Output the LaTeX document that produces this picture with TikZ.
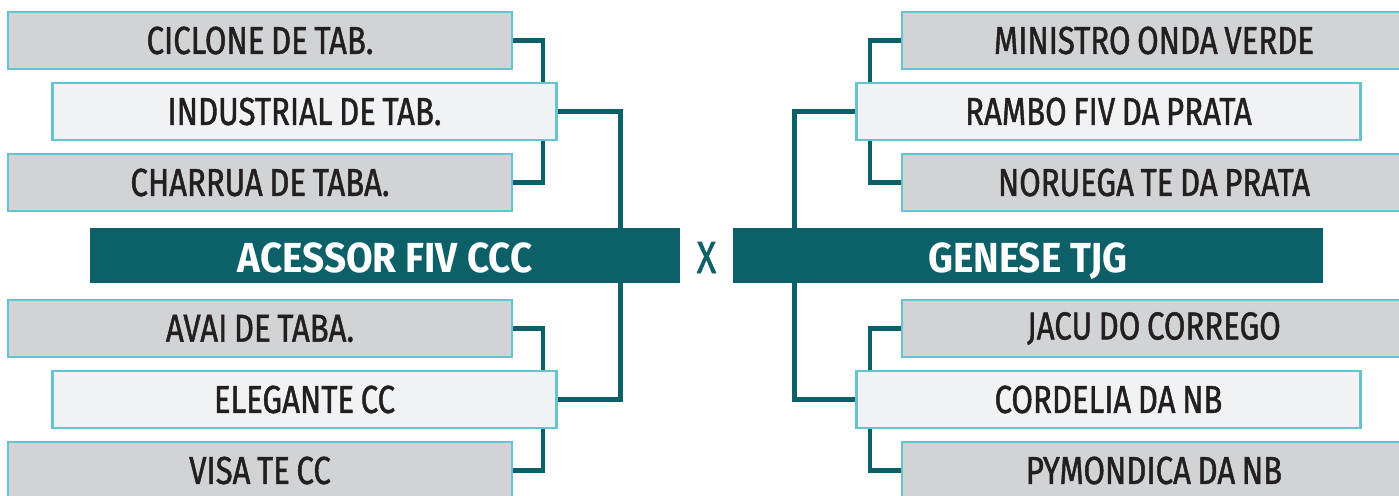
\documentclass[tikz,border=0pt]{standalone}
\usepackage{fontspec}
\setmainfont{Fira Sans}
\newfontfamily\seedfont[FakeStretch=0.8, FakeBold=1.2, WordSpace=0.8]{Fira Sans}
\newfontfamily\finalfont[FakeStretch=0.92]{Fira Sans}
\usepackage{tikz}
\usetikzlibrary{positioning,calc,backgrounds}
\definecolor{tealdark}{RGB}{14,96,104}
\definecolor{seedgray}{RGB}{209,211,213}
\definecolor{seedlight}{RGB}{241,242,244}
\definecolor{seedrim}{RGB}{100,196,210}
\definecolor{ink}{RGB}{35,31,32}

\begin{document}
\begin{tikzpicture}[x=0.5pt, y=0.5pt, node distance=7pt,
    seed/.style={draw=seedrim, line width=1.4pt, fill=seedgray, minimum width=252pt, minimum height=28.5pt,
      inner sep=0pt, outer sep=0pt, text=ink, font=\seedfont\fontsize{19.5}{20}\selectfont},
    mid/.style={seed, fill=seedlight},
    final/.style={fill=tealdark, minimum width=295pt, minimum height=27.5pt, inner sep=0pt, outer sep=0pt,
      text height=16.5pt, text depth=0pt, text=white, font=\finalfont\bfseries\fontsize{21}{22}\selectfont},
    link/.style={draw=tealdark, line width=2.3pt}]
\useasboundingbox (0,0) rectangle (1399,495);
\node[final] (acessor) at (385,239.5) {ACESSOR FIV CCC};
\node[final] (genese) at (1028,239.5) {GENESE TJG};
\node[text=tealdark, font=\seedfont\fontsize{22.5}{23}\selectfont] (vs) at ($(acessor.east)!0.5!(genese.west)+(0,-2)$) {X};
\node[seed, above=8.5pt of acessor, xshift=-62.5pt] (charrua) {CHARRUA DE TABA.};
\node[mid, above=of charrua, xshift=22.25pt] (industrial) {INDUSTRIAL DE TAB.};
\node[seed, above=of industrial, xshift=-22.25pt] (ciclone) {CICLONE DE TAB.};
\node[seed, below=8.5pt of acessor, xshift=-62.5pt] (avai) {AVAI DE TABA.};
\node[mid, below=of avai, xshift=22.25pt] (elegante) {ELEGANTE CC};
\node[seed, below=of elegante, xshift=-22.25pt] (visa) {VISA TE CC};
\node[seed, above=8.5pt of genese, xshift=63pt] (noruega) {NORUEGA TE DA PRATA};
\node[mid, above=of noruega, xshift=-22.75pt] (rambo) {RAMBO FIV DA PRATA};
\node[seed, above=of rambo, xshift=22.75pt] (ministro) {MINISTRO ONDA VERDE};
\node[seed, below=8.5pt of genese, xshift=63pt] (jacu) {JACU DO CORREGO};
\node[mid, below=of jacu, xshift=-22.75pt] (cordelia) {CORDELIA DA NB};
\node[seed, below=of cordelia, xshift=22.75pt] (pymondica) {PYMONDICA DA NB};
\begin{scope}[on background layer]
\draw[link] (ciclone.east) -- ++(15.5pt,0) |- (charrua.east);
\draw[link] (avai.east) -- ++(15.5pt,0) |- (visa.east);
\draw[link] (industrial.east) -- ++(32pt,0) coordinate (lk1) -- (lk1 |- acessor.center);
\draw[link] (elegante.east) -- ++(32pt,0) coordinate (lk2) -- (lk2 |- acessor.center);
\draw[link] (ministro.west) -- ++(-16pt,0) |- (noruega.west);
\draw[link] (jacu.west) -- ++(-16pt,0) |- (pymondica.west);
\draw[link] (rambo.west) -- ++(-31pt,0) coordinate (lk3) -- (lk3 |- genese.center);
\draw[link] (cordelia.west) -- ++(-31pt,0) coordinate (lk4) -- (lk4 |- genese.center);
\end{scope}
\end{tikzpicture}
\end{document}
